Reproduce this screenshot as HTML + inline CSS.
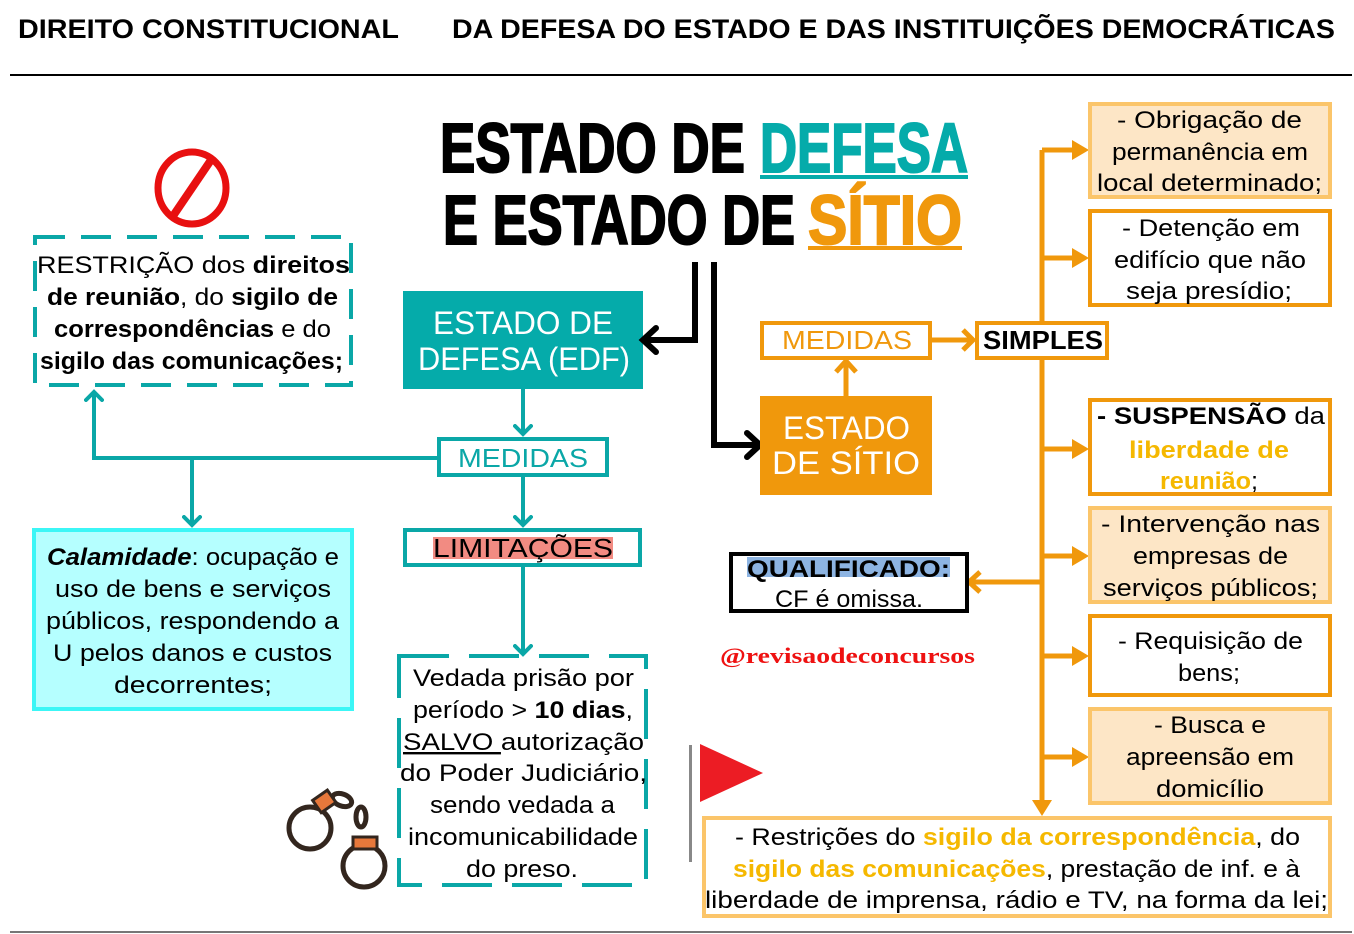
<!DOCTYPE html>
<html><head><meta charset="utf-8"><style>
html,body{margin:0;padding:0;background:#fff;width:1354px;height:934px;overflow:hidden}
svg{display:block}
text{font-family:"Liberation Sans Narrow","Liberation Sans",sans-serif;font-size:24px;fill:#000}
.b{font-weight:bold}
.t{font-family:"Liberation Sans",sans-serif;font-weight:900;font-size:70px;stroke:#000;stroke-width:2}
.h{font-family:"Liberation Sans",sans-serif;font-weight:bold;font-size:27px}
.o{fill:#f5b800;font-weight:bold}
</style></head><body>
<svg width="1354" height="934" viewBox="0 0 1354 934">
<defs>
<marker id="ta" markerWidth="20" markerHeight="20" refX="10" refY="10" orient="auto" markerUnits="userSpaceOnUse"><path d="M2,2 L10,10 L2,18" fill="none" stroke="#0aa7a7" stroke-width="4" stroke-linecap="round"/></marker>
</defs>
<!-- header -->
<text class="h" x="18" y="38" textLength="381" lengthAdjust="spacingAndGlyphs">DIREITO CONSTITUCIONAL</text>
<text class="h" x="452" y="38" textLength="883" lengthAdjust="spacingAndGlyphs">DA DEFESA DO ESTADO E DAS INSTITUIÇÕES DEMOCRÁTICAS</text>
<rect x="10" y="74" width="1342" height="2" fill="#000"/>
<rect x="10" y="931" width="1342" height="2" fill="#777"/>

<!-- title -->
<text class="t" x="440" y="172" textLength="305" lengthAdjust="spacingAndGlyphs">ESTADO DE</text>
<text class="t" x="760" y="172" textLength="208" lengthAdjust="spacingAndGlyphs" style="fill:#05abaa;stroke:#05abaa">DEFESA</text>
<rect x="760" y="175" width="208" height="4" fill="#05abaa"/>
<text class="t" x="443" y="244" textLength="352" lengthAdjust="spacingAndGlyphs">E ESTADO DE</text>
<text class="t" x="808" y="244" textLength="154" lengthAdjust="spacingAndGlyphs" style="fill:#f0980c;stroke:#f0980c">SÍTIO</text>
<rect x="808" y="246" width="154" height="4" fill="#f0980c"/>

<!-- prohibition -->
<ellipse cx="192" cy="188" rx="34" ry="36" fill="none" stroke="#e81010" stroke-width="7"/>
<line x1="211" y1="160" x2="173" y2="216" stroke="#e81010" stroke-width="8"/>

<!-- restriction dashed box -->
<rect x="35" y="237" width="316" height="148" fill="none" stroke="#0aa7a7" stroke-width="4" stroke-dasharray="30,16"/>
<text x="37" y="273" textLength="313" lengthAdjust="spacingAndGlyphs">RESTRIÇÃO dos <tspan class="b">direitos</tspan></text>
<text x="47" y="305" textLength="291" lengthAdjust="spacingAndGlyphs"><tspan class="b">de reunião</tspan>, do <tspan class="b">sigilo de</tspan></text>
<text x="54" y="337" textLength="277" lengthAdjust="spacingAndGlyphs"><tspan class="b">correspondências</tspan> e do</text>
<text x="40" y="369" textLength="303" lengthAdjust="spacingAndGlyphs" class="b">sigilo das comunicações;</text>

<!-- EDF -->
<rect x="403" y="291" width="240" height="98" fill="#05abaa"/>
<text x="433" y="334" textLength="180" lengthAdjust="spacingAndGlyphs" style="fill:#fff;font-size:32px">ESTADO DE</text>
<text x="418" y="370" textLength="212" lengthAdjust="spacingAndGlyphs" style="fill:#fff;font-size:32px">DEFESA (EDF)</text>

<!-- black arrows -->
<polyline points="695,262 695,340 645,340" fill="none" stroke="#000" stroke-width="6"/>
<polyline points="656,328 643,340 656,352" fill="none" stroke="#000" stroke-width="6" stroke-linecap="round"/>
<polyline points="714,262 714,445 758,445" fill="none" stroke="#000" stroke-width="6"/>
<polyline points="747,433 760,445 747,457" fill="none" stroke="#000" stroke-width="6" stroke-linecap="round"/>

<!-- teal connectors -->
<g stroke="#0aa7a7" stroke-width="4" fill="none">
<line x1="523" y1="389" x2="523" y2="434" marker-end="url(#ta)"/>
<polyline points="437,458 94,458 94,392" marker-end="url(#ta)"/>
<line x1="192" y1="458" x2="192" y2="525" marker-end="url(#ta)"/>
<line x1="523" y1="476" x2="523" y2="525" marker-end="url(#ta)"/>
<line x1="523" y1="566" x2="523" y2="654" marker-end="url(#ta)"/>
</g>
<rect x="439" y="439" width="168" height="36" fill="#fff" stroke="#0aa7a7" stroke-width="4"/>
<text x="458" y="467" textLength="130" lengthAdjust="spacingAndGlyphs" style="fill:#0aa7a7;font-size:26px">MEDIDAS</text>
<rect x="405" y="530" width="235" height="35" fill="#fff" stroke="#0aa7a7" stroke-width="4"/>
<rect x="433" y="537" width="180" height="22" fill="#f28b82"/>
<text x="433" y="557" textLength="180" lengthAdjust="spacingAndGlyphs" style="font-size:26px">LIMITAÇÕES</text>

<!-- calamidade -->
<rect x="34" y="530" width="318" height="179" fill="#b5ffff" stroke="#3cf6f6" stroke-width="4"/>
<text x="47" y="565" textLength="292" lengthAdjust="spacingAndGlyphs"><tspan class="b" font-style="italic">Calamidade</tspan>: ocupação e</text>
<text x="55" y="597" textLength="276" lengthAdjust="spacingAndGlyphs">uso de bens e serviços</text>
<text x="46" y="629" textLength="293" lengthAdjust="spacingAndGlyphs">públicos, respondendo a</text>
<text x="53" y="661" textLength="279" lengthAdjust="spacingAndGlyphs">U pelos danos e custos</text>
<text x="114" y="693" textLength="158" lengthAdjust="spacingAndGlyphs">decorrentes;</text>

<!-- vedada -->
<rect x="399" y="656" width="247" height="229" fill="none" stroke="#0aa7a7" stroke-width="4" stroke-dasharray="50,20"/>
<text x="413" y="686" textLength="221" lengthAdjust="spacingAndGlyphs">Vedada prisão por</text>
<text x="413" y="718" textLength="220" lengthAdjust="spacingAndGlyphs">período &gt; <tspan class="b">10 dias</tspan>,</text>
<text x="403" y="750" textLength="241" lengthAdjust="spacingAndGlyphs"><tspan text-decoration="underline">SALVO </tspan>autorização</text>
<text x="400" y="781" textLength="247" lengthAdjust="spacingAndGlyphs">do Poder Judiciário,</text>
<text x="430" y="813" textLength="185" lengthAdjust="spacingAndGlyphs">sendo vedada a</text>
<text x="408" y="845" textLength="230" lengthAdjust="spacingAndGlyphs">incomunicabilidade</text>
<text x="466" y="877" textLength="112" lengthAdjust="spacingAndGlyphs">do preso.</text>

<!-- handcuffs -->
<g stroke="#33261e" stroke-width="5" fill="none">
<circle cx="310" cy="828" r="21"/>
<circle cx="364" cy="866" r="21"/>
<ellipse cx="342" cy="800" rx="10" ry="6" transform="rotate(20 342 800)"/>
<ellipse cx="361" cy="817" rx="5" ry="10"/>
</g>
<rect x="315" y="794" width="18" height="15" fill="#e7783b" stroke="#33261e" stroke-width="3" transform="rotate(-35 324 801)"/>
<rect x="353" y="837" width="24" height="12" fill="#e7783b" stroke="#33261e" stroke-width="3"/>

<!-- orange side -->
<g stroke="#f0980c" stroke-width="5" fill="none">
<line x1="846" y1="396" x2="846" y2="362"/>
<polyline points="836,372 846,361 856,372"/>
<line x1="932" y1="340" x2="972" y2="340"/>
<polyline points="963,330 973,340 963,350"/>
<line x1="1042" y1="150" x2="1042" y2="805"/>
<line x1="1042" y1="582" x2="970" y2="582"/>
<polyline points="980,572 969,582 980,592"/>
<line x1="1042" y1="150" x2="1076" y2="150"/>
<line x1="1042" y1="258" x2="1076" y2="258"/>
<line x1="1042" y1="449" x2="1076" y2="449"/>
<line x1="1042" y1="556" x2="1076" y2="556"/>
<line x1="1042" y1="656" x2="1076" y2="656"/>
<line x1="1042" y1="757" x2="1076" y2="757"/>
</g>
<g fill="#f0980c">
<path d="M1072,140 L1089,150 L1072,160Z"/><path d="M1072,248 L1089,258 L1072,268Z"/>
<path d="M1072,439 L1089,449 L1072,459Z"/><path d="M1072,546 L1089,556 L1072,566Z"/>
<path d="M1072,646 L1089,656 L1072,666Z"/><path d="M1072,747 L1089,757 L1072,767Z"/>
<path d="M1032,800 L1042,816 L1052,800Z"/>
</g>
<rect x="760" y="396" width="172" height="99" fill="#f0980c"/>
<text x="783" y="439" textLength="127" lengthAdjust="spacingAndGlyphs" style="fill:#fff;font-size:32px">ESTADO</text>
<text x="772" y="474" textLength="148" lengthAdjust="spacingAndGlyphs" style="fill:#fff;font-size:32px">DE SÍTIO</text>
<rect x="762" y="323" width="168" height="35" fill="#fff" stroke="#f0980c" stroke-width="4"/>
<text x="782" y="349" textLength="130" lengthAdjust="spacingAndGlyphs" style="fill:#f0980c;font-size:26px">MEDIDAS</text>
<rect x="977" y="323" width="130" height="35" fill="#fff" stroke="#f0980c" stroke-width="4"/>
<text x="983" y="349" textLength="120" lengthAdjust="spacingAndGlyphs" class="b" style="font-size:26px">SIMPLES</text>

<!-- right boxes -->
<g stroke-width="4">
<rect x="1090" y="104" width="240" height="93" fill="#fde6c6" stroke="#fbc56a"/>
<rect x="1090" y="211" width="240" height="94" fill="#fff" stroke="#f0980c"/>
<rect x="1090" y="400" width="240" height="94" fill="#fff" stroke="#f0980c"/>
<rect x="1090" y="508" width="240" height="94" fill="#fde6c6" stroke="#fbc56a"/>
<rect x="1090" y="616" width="240" height="79" fill="#fff" stroke="#f0980c"/>
<rect x="1090" y="709" width="240" height="94" fill="#fde6c6" stroke="#fbc56a"/>
<rect x="704" y="818" width="626" height="98" fill="#fff" stroke="#fbc56a"/>
</g>
<text x="1117" y="128" textLength="185" lengthAdjust="spacingAndGlyphs">- Obrigação de</text>
<text x="1112" y="160" textLength="196" lengthAdjust="spacingAndGlyphs">permanência em</text>
<text x="1097" y="191" textLength="225" lengthAdjust="spacingAndGlyphs">local determinado;</text>
<text x="1122" y="236" textLength="178" lengthAdjust="spacingAndGlyphs">- Detenção em</text>
<text x="1114" y="268" textLength="192" lengthAdjust="spacingAndGlyphs">edifício que não</text>
<text x="1126" y="299" textLength="166" lengthAdjust="spacingAndGlyphs">seja presídio;</text>
<text x="1097" y="424" textLength="228" lengthAdjust="spacingAndGlyphs"><tspan class="b">- SUSPENSÃO</tspan> da</text>
<text x="1129" y="458" textLength="160" lengthAdjust="spacingAndGlyphs" class="o">liberdade de</text>
<text x="1160" y="489" textLength="98" lengthAdjust="spacingAndGlyphs"><tspan class="o">reunião</tspan>;</text>
<text x="1101" y="532" textLength="219" lengthAdjust="spacingAndGlyphs">- Intervenção nas</text>
<text x="1133" y="564" textLength="155" lengthAdjust="spacingAndGlyphs">empresas de</text>
<text x="1103" y="596" textLength="215" lengthAdjust="spacingAndGlyphs">serviços públicos;</text>
<text x="1118" y="649" textLength="185" lengthAdjust="spacingAndGlyphs">- Requisição de</text>
<text x="1178" y="681" textLength="62" lengthAdjust="spacingAndGlyphs">bens;</text>
<text x="1154" y="733" textLength="112" lengthAdjust="spacingAndGlyphs">- Busca e</text>
<text x="1126" y="765" textLength="168" lengthAdjust="spacingAndGlyphs">apreensão em</text>
<text x="1156" y="797" textLength="108" lengthAdjust="spacingAndGlyphs">domicílio</text>
<text x="735" y="845" textLength="565" lengthAdjust="spacingAndGlyphs">- Restrições do <tspan class="o">sigilo da correspondência</tspan>, do</text>
<text x="733" y="877" textLength="567" lengthAdjust="spacingAndGlyphs"><tspan class="o">sigilo das comunicações</tspan>, prestação de inf. e à</text>
<text x="705" y="908" textLength="623" lengthAdjust="spacingAndGlyphs">liberdade de imprensa, rádio e TV, na forma da lei;</text>

<!-- qualificado -->
<rect x="731" y="554" width="236" height="57" fill="#fff" stroke="#000" stroke-width="4"/>
<rect x="747" y="557" width="203" height="20" fill="#8db4e2"/>
<text x="747" y="577" textLength="203" lengthAdjust="spacingAndGlyphs" class="b">QUALIFICADO:</text>
<text x="775" y="607" textLength="148" lengthAdjust="spacingAndGlyphs">CF é omissa.</text>

<text x="720" y="663" textLength="255" lengthAdjust="spacingAndGlyphs" style="font-family:'Liberation Serif',serif;font-weight:bold;fill:#ee1111;font-size:22px">@revisaodeconcursos</text>

<!-- flag -->
<rect x="689" y="745" width="3" height="117" fill="#888"/>
<path d="M700,744 L763,773 L700,802Z" fill="#ec1c24"/>
</svg>
</body></html>
